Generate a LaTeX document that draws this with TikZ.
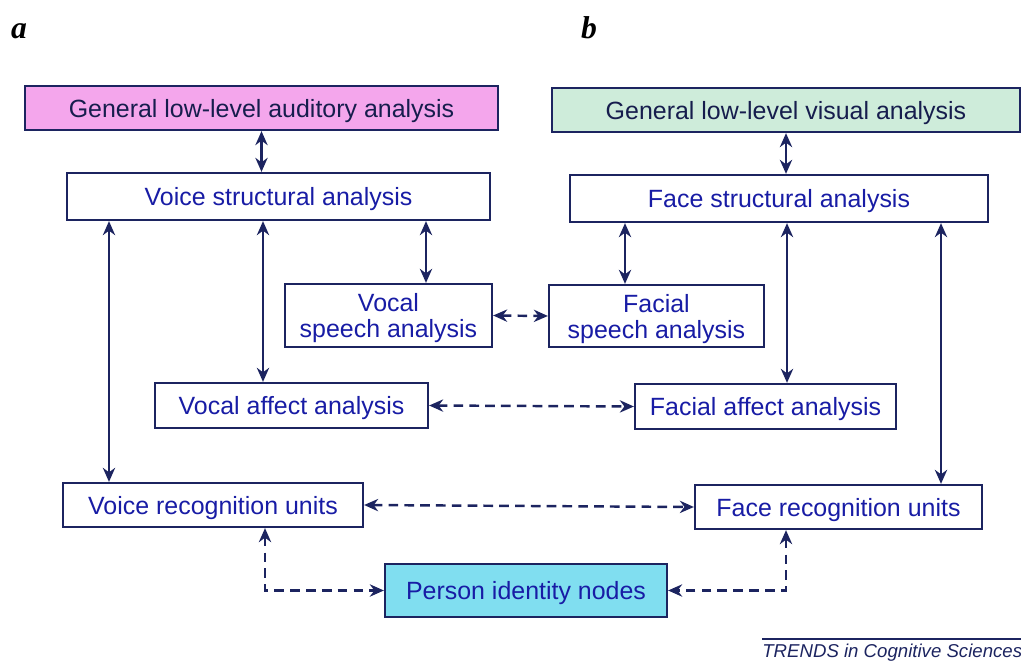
\documentclass[tikz,border=0pt]{standalone}
\usepackage{fontspec}
\setmainfont{Liberation Sans}
\newfontfamily\labelfont{Liberation Serif}
\usetikzlibrary{arrows.meta}

\definecolor{navy}{RGB}{28,36,96}
\definecolor{textblue}{RGB}{24,28,165}
\definecolor{audpink}{RGB}{244,166,236}
\definecolor{vismint}{RGB}{206,236,218}
\definecolor{pincyan}{RGB}{128,222,240}

\begin{document}
\begin{tikzpicture}[x=0.02cm, y=-0.02cm,
		box/.style={draw=navy, line width=1.3pt, fill=white, text=textblue, inner sep=0pt, align=center,
			text depth=0pt, font=\fontsize{14.2}{14.8}\selectfont},
		link/.style={navy, line width=1.3pt, {Stealth[length=8pt, width=7pt]}-{Stealth[length=8pt, width=7pt]}},
		dlink/.style={link, line width=1.4pt, dash pattern=on 5.5pt off 3.5pt}]

	\useasboundingbox (0,0) rectangle (1021,662);

	\node [font=\labelfont\bfseries\itshape\fontsize{18}{20}\selectfont] (lbla) at (19,31) {a};
	\node [font=\labelfont\bfseries\itshape\fontsize{18}{20}\selectfont] (lblb) at (589,28) {b};

	\node [box, fill=audpink, text=navy!80!black, minimum width=9.46cm, minimum height=0.88cm] (aud) at (261.5,108) {General low-level auditory analysis};
	\node [box, fill=vismint, text=navy!80!black, minimum width=9.36cm, minimum height=0.88cm] (vis) at (786,110) {General low-level visual analysis};

	\node [box, minimum width=8.46cm, minimum height=0.94cm] (vsa) at (278.5,196.5) {Voice structural analysis};
	\node [box, minimum width=8.36cm, minimum height=0.94cm] (fsa) at (779,198.5) {Face structural analysis};

	\node [box, minimum width=4.14cm, minimum height=1.26cm] (vsp) at (388.5,315.5) {Vocal\\speech analysis};
	\node [box, minimum width=4.30cm, minimum height=1.24cm] (fsp) at (656.5,316) {Facial\\speech analysis};

	\node [box, minimum width=5.46cm, minimum height=0.90cm] (vaf) at (291.5,405.5) {Vocal affect analysis};
	\node [box, minimum width=5.22cm, minimum height=0.90cm] (faf) at (765.5,406.5) {Facial affect analysis};

	\node [box, minimum width=6.00cm, minimum height=0.88cm] (vru) at (213,505) {Voice recognition units};
	\node [box, minimum width=5.74cm, minimum height=0.88cm] (fru) at (838.5,507) {Face recognition units};

	\node [box, fill=pincyan, minimum width=5.64cm, minimum height=1.06cm] (pin) at (526,590.5) {Person identity nodes};

	% solid links
	\draw [link]	(aud) -- (vsa.north -| aud);
	\draw [link]	(vis) -- (fsa.north -| vis);
	\draw [link]	(vsa.south -| 426,0) -- (vsp.north -| 426,0);
	\draw [link]	(fsa.south -| 625,0) -- (fsp.north -| 625,0);
	\draw [link]	(vsa.south -| 263,0) -- (vaf.north -| 263,0);
	\draw [link]	(vsa.south -| 109,0) -- (vru.north -| 109,0);
	\draw [link]	(fsa.south -| 787,0) -- (faf.north -| 787,0);
	\draw [link]	(fsa.south -| 941,0) -- (fru.north -| 941,0);

	% dashed links
	\draw [dlink]	(vsp.east) -- (fsp.west);
	\draw [dlink]	(vaf.east) -- (faf.west);
	\draw [dlink]	(vru.east) -- (fru.west);
	\draw [dlink]	(vru.south -| 265,0) |- (pin.west);
	\draw [dlink]	(fru.south -| 786,0) |- (pin.east);

	\draw [navy, line width=1.3pt]	(762,639) coordinate (rulel) -- (1021,639) coordinate (ruler);
	\node [anchor=north west, inner sep=0pt, text=navy, font=\itshape\fontsize{10.6}{11}\selectfont] (trends) at (762,644) {TRENDS in Cognitive Sciences};
\end{tikzpicture}
\end{document}
